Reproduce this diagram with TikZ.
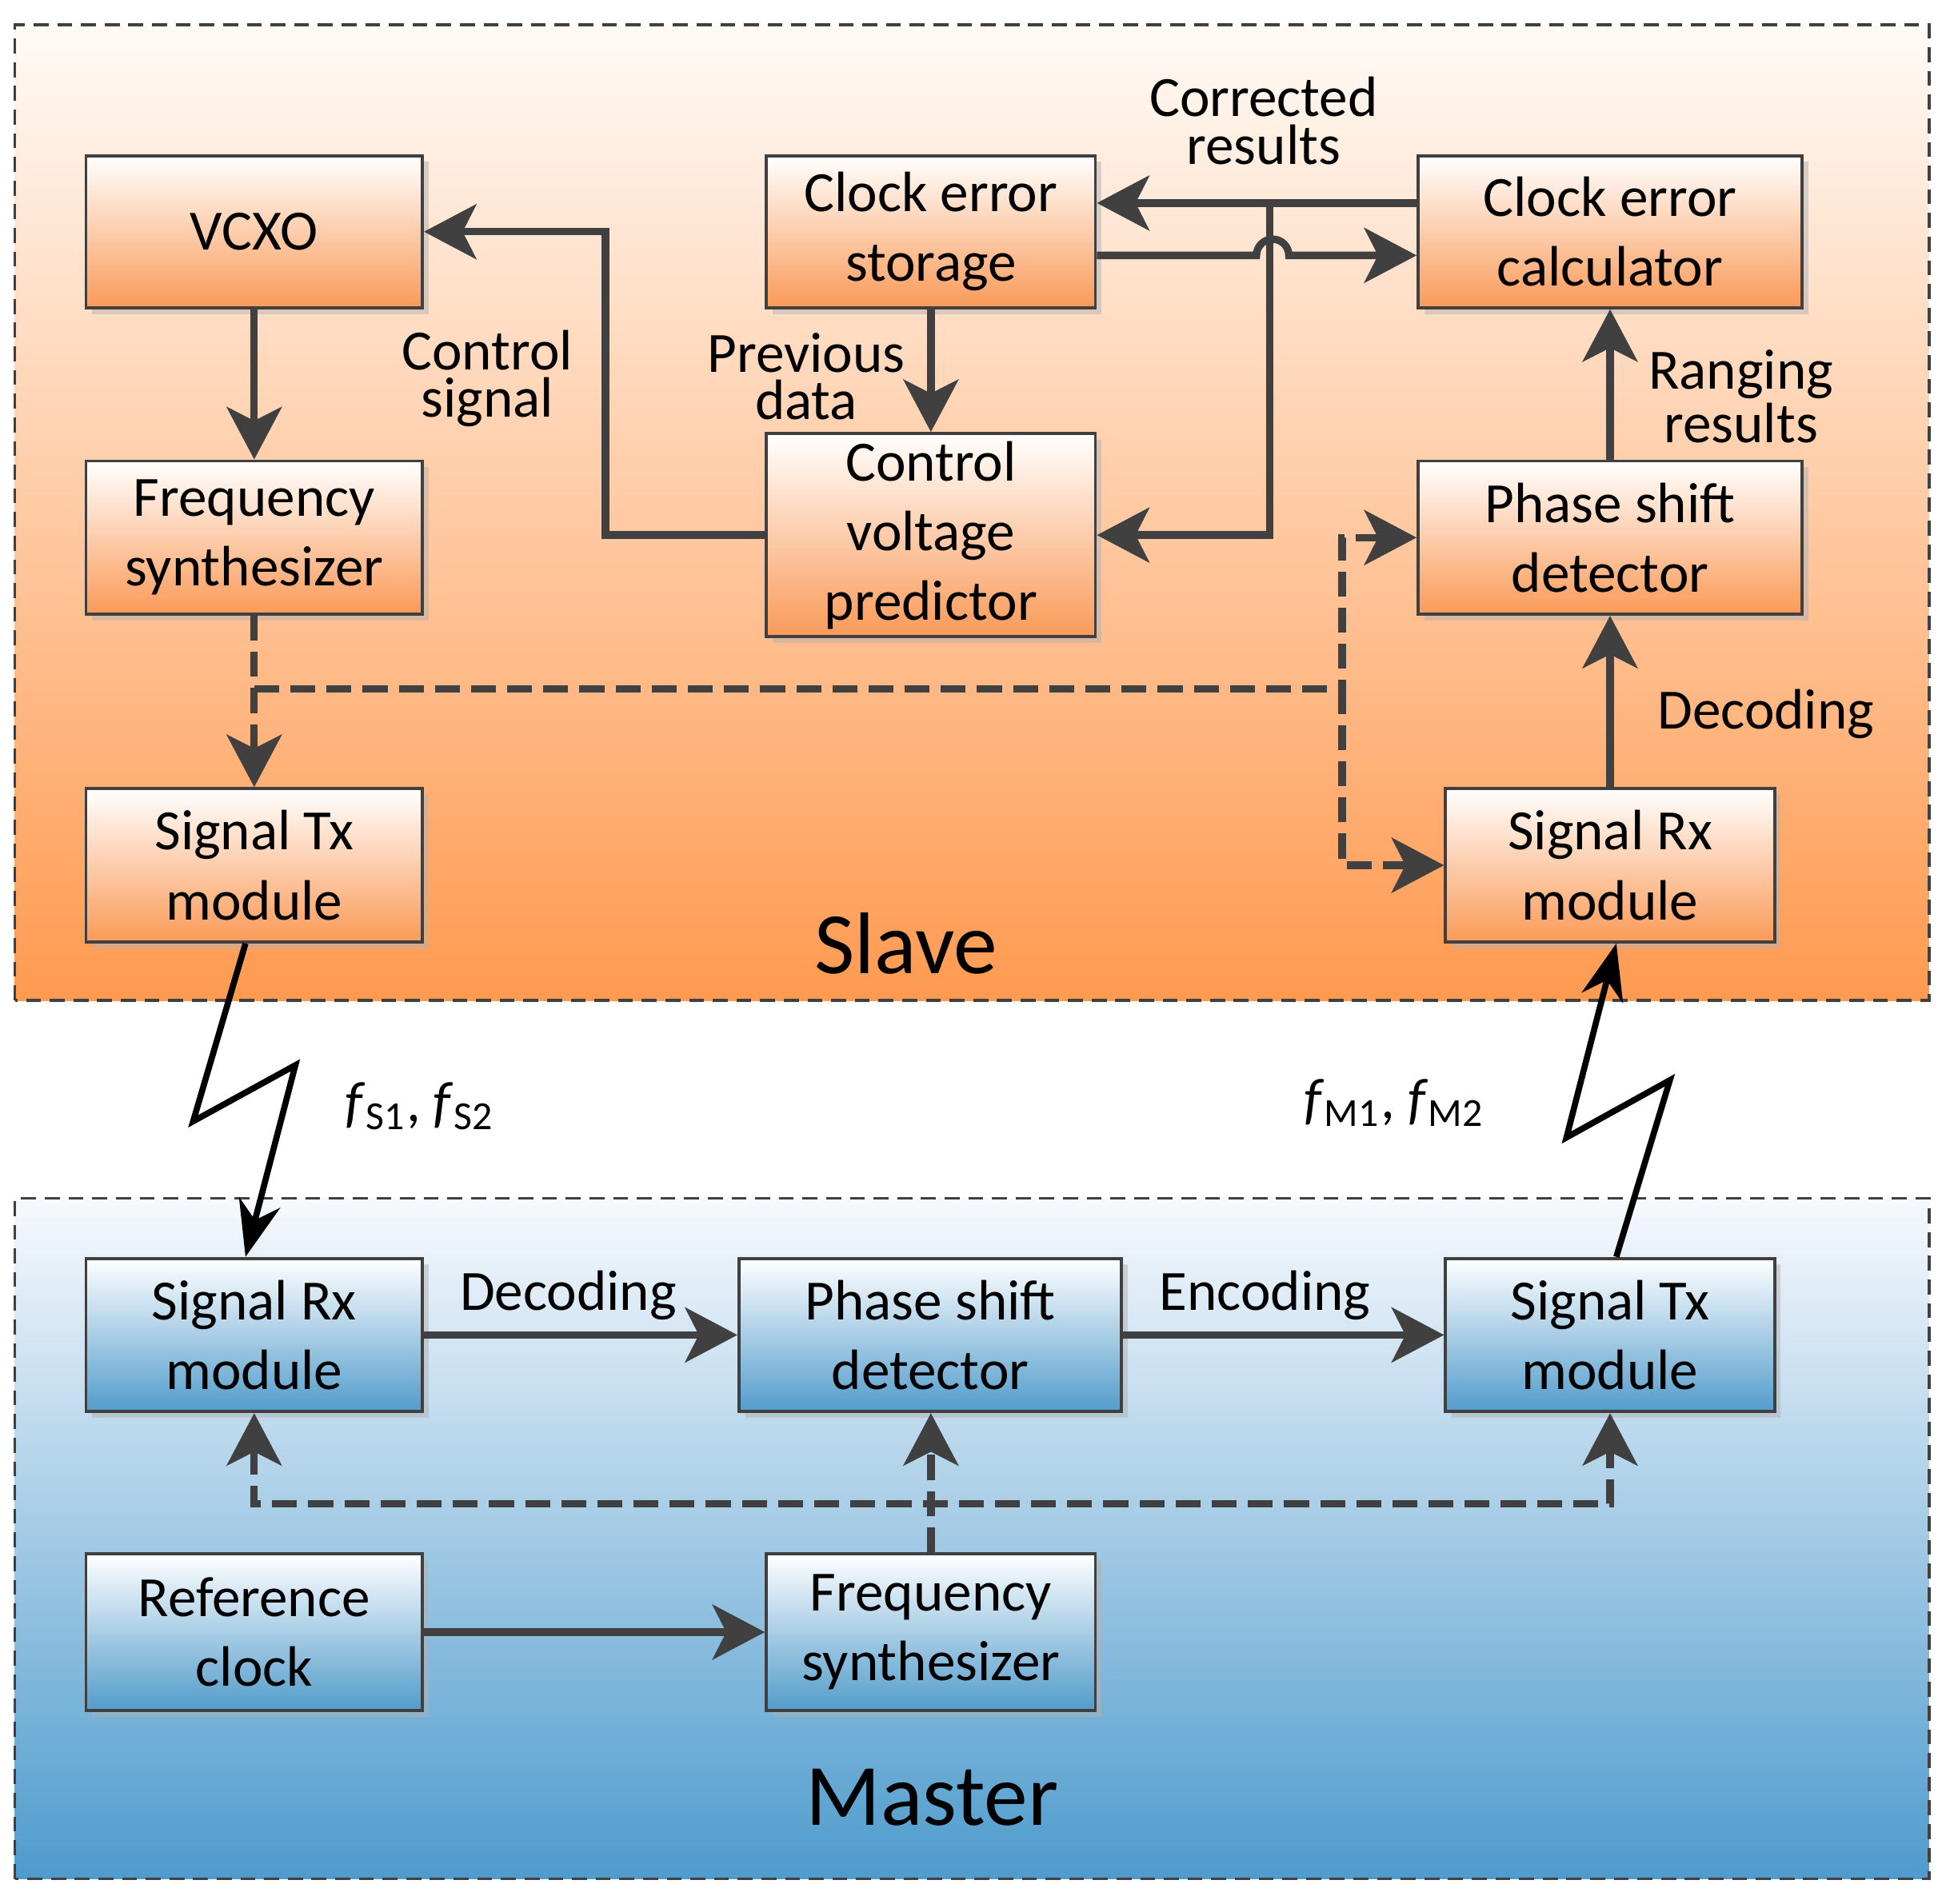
\documentclass[tikz,border=0pt]{standalone}
\usepackage{fontspec}
\setmainfont{Carlito}
\usetikzlibrary{arrows.meta,shadows}
\definecolor{lineg}{HTML}{404040}
\definecolor{slavetop}{HTML}{FFFAF6}
\definecolor{slavebot}{HTML}{FF9A50}
\definecolor{sboxbot}{HTML}{FA9A58}
\definecolor{mastertop}{HTML}{F6F9FD}
\definecolor{masterbot}{HTML}{4E9BCD}
\definecolor{mboxbot}{HTML}{529CCB}

\begin{document}
\begin{tikzpicture}[line width=1.7pt,lineg,
>={Stealth[length=0.42cm,width=0.44cm,inset=0.11cm]},
sbox/.style={draw=lineg,line width=0.7pt,rectangle,top color=white,bottom color=sboxbot,text=black,align=center,
  font=\fontsize{13}{15.9}\selectfont,minimum width=2.7cm,minimum height=1.23cm,inner sep=0pt,
  drop shadow={shadow xshift=0.05cm,shadow yshift=-0.05cm,fill=gray!60,opacity=0.5}},
mbox/.style={sbox,bottom color=mboxbot},
area/.style={draw=lineg,line width=0.6pt,dash pattern=on 0.12cm off 0.07cm},
dashlink/.style={dash pattern=on 0.2cm off 0.09cm},
note/.style={text=black,align=center,font=\fontsize{13}{10.8}\selectfont},
wireless/.style={black,line width=1.4pt,-{Stealth[length=0.45cm,width=0.34cm]}}]

\useasboundingbox (0,0) rectangle (15.68,15.28);

% slave and master areas
\shade[top color=slavetop,bottom color=slavebot] (0.12,7.25) rectangle (15.48,15.08);
\draw[area] (0.12,7.25) rectangle (15.48,15.08);
\shade[top color=mastertop,bottom color=masterbot] (0.12,0.20) rectangle (15.48,5.66);
\draw[area] (0.12,0.20) rectangle (15.48,5.66);

\draw (7.27,7.71) node[text=black,font=\fontsize{20}{24}\selectfont] (slave) {Slave};
\draw (7.48,0.85) node[text=black,font=\fontsize{20}{24}\selectfont] (master) {Master};

% slave blocks
\draw (2.04,13.42) node[sbox,minimum height=1.22cm] (vcxo) {VCXO};
\draw (2.04,10.965) node[sbox] (fs1) {Frequency\\synthesizer};
\draw (2.04,8.335) node[sbox] (tx1) {Signal Tx\\module};
\draw (7.47,13.42) node[sbox,minimum width=2.64cm,minimum height=1.22cm] (store) {Clock error\\storage};
\draw (7.47,10.985) node[sbox,minimum width=2.64cm,minimum height=1.63cm] (cvp) {Control\\voltage\\predictor};
\draw (12.92,13.42) node[sbox,minimum width=3.08cm,minimum height=1.22cm] (calc) {Clock error\\calculator};
\draw (12.92,10.965) node[sbox,minimum width=3.08cm] (psd1) {Phase shift\\detector};
\draw (12.92,8.335) node[sbox,minimum width=2.64cm] (rx1) {Signal Rx\\module};

% master blocks
\draw (2.04,4.565) node[mbox] (rx2) {Signal Rx\\module};
\draw (7.465,4.565) node[mbox,minimum width=3.07cm] (psd2) {Phase shift\\detector};
\draw (12.92,4.565) node[mbox,minimum width=2.64cm] (tx2) {Signal Tx\\module};
\draw (2.04,2.18) node[mbox,minimum height=1.26cm] (ref) {Reference\\clock};
\draw (7.47,2.18) node[mbox,minimum width=2.64cm,minimum height=1.26cm] (fs2) {Frequency\\synthesizer};

% slave links
\draw[->] (vcxo.south) -- (fs1.north);
\draw[->] (cvp.west) -- ++(-1.28,0) |- (vcxo.east);
\draw[->] (store.south) -- (cvp.north);
\draw[->] ([yshift=0.23cm]calc.west) -- ([yshift=0.23cm]store.east);
\draw[->] ([yshift=0.23cm]calc.west) ++(-1.18,0) |- (cvp.east);
\draw[->] ([yshift=-0.19cm]store.east) -- ++(1.28,0) arc[start angle=180,end angle=0,radius=0.13] -- ([yshift=-0.19cm]calc.west);
\draw[->] (psd1.north) -- (calc.south);
\draw[->] (rx1.north) -- (psd1.south);

\coordinate (dj) at (10.77,9.75);
\draw[dashlink,->] (fs1.south) -- (tx1.north);
\draw[dashlink] (fs1.south |- dj) -- (dj);
\draw[dashlink,<-] (psd1.west) -| (dj);
\draw[dashlink,<-] (rx1.west) -| (dj);

\draw (3.91,12.24) node[note] {Control\\signal};
\draw (6.47,12.26) node[note] {Previous\\data};
\draw (10.14,14.31) node[note] {Corrected\\results};
\draw (13.97,12.10) node[note] {Ranging\\results};
\draw (14.17,9.55) node[note] {Decoding};

% wireless links
\draw[wireless] ([xshift=-0.07cm]tx1.south) -- (1.55,6.28) -- (2.37,6.73) -- ([xshift=-0.07cm]rx2.north);
\draw[wireless] ([xshift=0.05cm]tx2.north) -- (13.40,6.61) -- (12.57,6.15) -- ([xshift=0.05cm]rx1.south);
\draw (3.37,6.40) node[note] {\textit{f}\textsubscript{S1}, \textit{f}\textsubscript{S2}};
\draw (11.19,6.43) node[note] {\textit{f}\textsubscript{M1}, \textit{f}\textsubscript{M2}};

% master links
\draw[->] (rx2.east) -- (psd2.west) node[midway,above=-0.8pt,note,xshift=-0.1cm] {Decoding};
\draw[->] (psd2.east) -- (tx2.west) node[midway,above=-0.8pt,note,xshift=-0.15cm] {Encoding};
\draw[->] (ref.east) -- (fs2.west);

\coordinate (mj) at (7.47,3.21);
\draw[dashlink,->] (fs2.north) -- (fs2.north |- psd2.south);
\draw[dashlink,<->] (rx2.south) |- (mj) -| (tx2.south);
\end{tikzpicture}
\end{document}
